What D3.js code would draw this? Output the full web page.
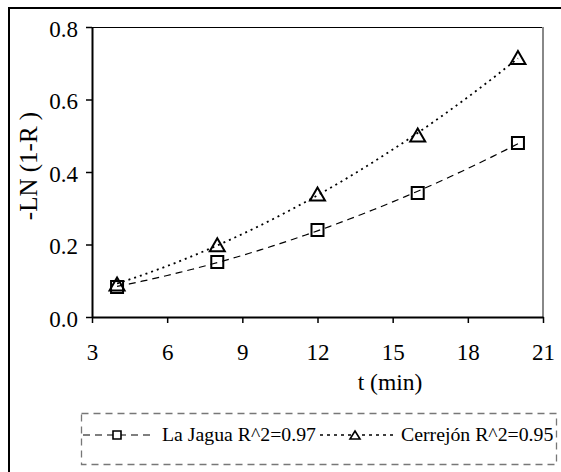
<!DOCTYPE html>
<html>
<head>
<meta charset="utf-8">
<script src="https://cdn.jsdelivr.net/npm/d3@7"></script>
<style>
  body { margin: 0; background: #fff; }
  svg { display: block; }
</style>
</head>
<body>
<svg id="chart" width="561" height="472"></svg>
<script>
// data
var times = [4, 8, 12, 16, 20];
var laJagua = [0.083, 0.152, 0.240, 0.342, 0.480];
var cerrejon = [0.091, 0.199, 0.339, 0.502, 0.716];
var seriesNames = ["La Jagua R^2=0.97", "Cerrejón R^2=0.95"];
var xTicks = [3, 6, 9, 12, 15, 18, 21];
var yTicks = [0, 0.2, 0.4, 0.6, 0.8];

var serifFont = "'Liberation Serif'";

var svg = d3.select("#chart");
var plot = { left: 92, right: 543, top: 27, bottom: 317 };

// outer frame (only top and left edges inside the picture)
svg.append("path")
   .attr("d", "M9,472 L9,8 L561,8")
   .attr("fill", "none")
   .attr("stroke", "#000")
   .attr("stroke-width", 2);

var xScale = d3.scaleLinear().domain([3, 21]).range([plot.left, plot.right]);
var yScale = d3.scaleLinear().domain([0, 0.8]).range([plot.bottom, plot.top]);

// plot area border: top black, right gray
svg.append("line")
   .attr("x1", plot.left).attr("x2", plot.right)
   .attr("y1", plot.top + 0.5).attr("y2", plot.top + 0.5)
   .attr("stroke", "#000").attr("stroke-width", 1);
svg.append("line")
   .attr("x1", plot.right).attr("x2", plot.right)
   .attr("y1", plot.top).attr("y2", plot.bottom)
   .attr("stroke", "#888").attr("stroke-width", 2);

var xAxis = d3.axisBottom(xScale)
              .tickValues(xTicks)
              .tickSize(6)
              .tickPadding(21)
              .tickSizeOuter(0)
              .tickFormat(d3.format("d"));
svg.append("g")
   .attr("transform", "translate(0," + plot.bottom + ")")
   .call(xAxis)
   .call(function(g) {
     g.select(".domain").attr("stroke-width", 2);
     g.selectAll(".tick line").attr("stroke-width", 1.5);
     g.selectAll(".tick text")
      .style("font-family", serifFont)
      .style("font-size", "23px");
   });

var yAxis = d3.axisLeft(yScale)
              .tickValues(yTicks)
              .tickSize(6)
              .tickPadding(8)
              .tickSizeOuter(0)
              .tickFormat(d3.format(".1f"));
svg.append("g")
   .attr("transform", "translate(" + plot.left + ",0)")
   .call(yAxis)
   .call(function(g) {
     g.select(".domain").attr("stroke-width", 2);
     g.selectAll(".tick line").attr("stroke-width", 1.5);
     g.selectAll(".tick text")
      .attr("dy", "0.4em")
      .style("font-family", serifFont)
      .style("font-size", "23px");
   });

// axis titles
svg.append("text")
   .attr("x", 390)
   .attr("y", 390)
   .attr("text-anchor", "middle")
   .style("font-family", serifFont)
   .style("font-size", "23.5px")
   .text("t (min)");

svg.append("text")
   .attr("transform", "translate(37,166) rotate(-90)")
   .attr("text-anchor", "middle")
   .style("font-family", serifFont)
   .style("font-size", "25px")
   .text("-LN (1-R )");

// quadratic least squares fit, like the spreadsheet trendline
function quadFit(xs, ys) {
  var n = xs.length, s = [0, 0, 0, 0, 0], t = [0, 0, 0];
  for (var i = 0; i < n; i++) {
    for (var k = 0; k < 5; k++) s[k] += Math.pow(xs[i], k);
    for (var k2 = 0; k2 < 3; k2++) t[k2] += ys[i] * Math.pow(xs[i], k2);
  }
  var m = [[s[0], s[1], s[2], t[0]], [s[1], s[2], s[3], t[1]], [s[2], s[3], s[4], t[2]]];
  for (var c = 0; c < 3; c++) {
    for (var r = c + 1; r < 3; r++) {
      var f = m[r][c] / m[c][c];
      for (var j = c; j < 4; j++) m[r][j] -= f * m[c][j];
    }
  }
  var b = [0, 0, 0];
  for (var r2 = 2; r2 >= 0; r2--) {
    var v = m[r2][3];
    for (var j2 = r2 + 1; j2 < 3; j2++) v -= m[r2][j2] * b[j2];
    b[r2] = v / m[r2][r2];
  }
  return function(x) { return b[0] + b[1] * x + b[2] * x * x; };
}

function squarePath(cx, cy, s) {
  return "M" + (cx - s / 2) + "," + (cy - s / 2) + "h" + s + "v" + s + "h" + (-s) + "Z";
}
function trianglePath(cx, cy, w, h) {
  return "M" + cx + "," + (cy - h / 2) + "L" + (cx + w / 2) + "," + (cy + h / 2) +
         "L" + (cx - w / 2) + "," + (cy + h / 2) + "Z";
}

var series = [
  { name: seriesNames[0], values: laJagua, dash: "7,5", width: 1.2, marker: "square" },
  { name: seriesNames[1], values: cerrejon, dash: "2,4", width: 1.8, marker: "triangle" }
];

series.forEach(function(s) {
  var fit = quadFit(times, s.values);
  var curvePts = d3.range(times[0], times[times.length - 1] + 0.01, 0.25);
  svg.append("path")
     .datum(curvePts)
     .attr("fill", "none")
     .attr("stroke", "#000")
     .attr("stroke-width", s.width)
     .attr("stroke-dasharray", s.dash)
     .attr("d", d3.line()
                  .x(function(d) { return xScale(d); })
                  .y(function(d) { return yScale(fit(d)); }));
});

series.forEach(function(s) {
  svg.append("g").selectAll("path")
     .data(s.values)
     .enter().append("path")
     .attr("fill", "none")
     .attr("stroke", "#000")
     .attr("stroke-width", 2)
     .attr("d", function(d, i) {
       var cx = xScale(times[i]), cy = yScale(d);
       return s.marker === "square" ? squarePath(cx, cy, 12) : trianglePath(cx, cy, 15, 13);
     });
});

// legend
var legend = svg.append("g");
legend.append("rect")
      .attr("x", 81.5).attr("y", 413.5)
      .attr("width", 475).attr("height", 51)
      .attr("fill", "none")
      .attr("stroke", "#777")
      .attr("stroke-width", 1.3)
      .attr("stroke-dasharray", "7,5");

var legendItems = [
  { x1: 83, x2: 155, mx: 117, tx: 162 },
  { x1: 320, x2: 393, mx: 355, tx: 401 }
];
var legendY = 435;
series.forEach(function(s, i) {
  var it = legendItems[i];
  legend.append("line")
        .attr("x1", it.x1).attr("x2", it.x2)
        .attr("y1", legendY).attr("y2", legendY)
        .attr("stroke", "#000")
        .attr("stroke-width", i === 0 ? 1.2 : 1.6)
        .attr("stroke-dasharray", i === 0 ? "7,5" : "3,4");
  legend.append("path")
        .attr("d", s.marker === "square" ? squarePath(it.mx, legendY, 8) : trianglePath(it.mx, legendY, 10, 8))
        .attr("fill", "#fff")
        .attr("stroke", "#000")
        .attr("stroke-width", 1.6);
  legend.append("text")
        .attr("x", it.tx)
        .attr("y", legendY + 6)
        .style("font-family", serifFont)
        .style("font-size", "19.8px")
        .text(s.name);
});
</script>
</body>
</html>
